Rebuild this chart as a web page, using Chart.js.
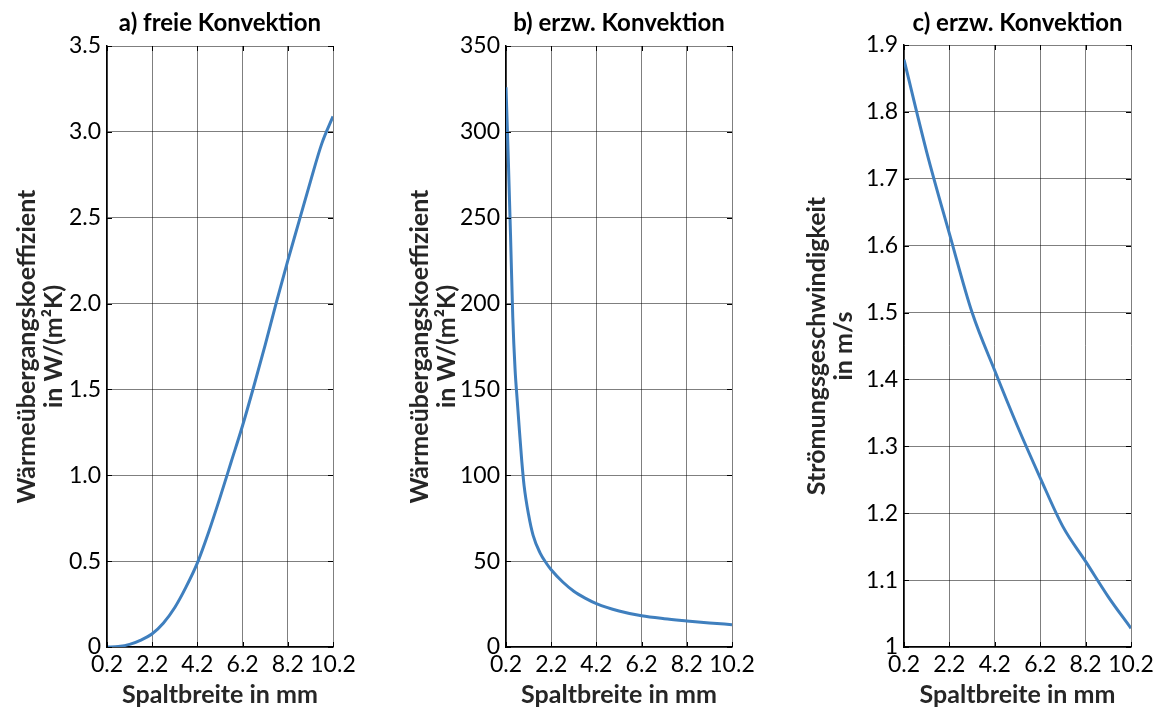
<!DOCTYPE html>
<html>
<head>
<meta charset="utf-8">
<script src="https://cdn.jsdelivr.net/npm/chart.js@4.4.0/dist/chart.umd.min.js"></script>
<style>
  html, body { margin: 0; padding: 0; background: #fff; }
  #wrap { position: relative; width: 1159px; height: 711px; }
  #wrap canvas { position: absolute; left: 0; top: 0; }
</style>
</head>
<body>
<div id="wrap">
  <canvas id="chartFree" width="1159" height="711"></canvas>
  <canvas id="chartForcedHtc" width="1159" height="711"></canvas>
  <canvas id="chartVelocity" width="1159" height="711"></canvas>
</div>
<script>
// Gap width (mm) and tick labels shared by all three panels
const gapTicks = [0.2, 2.2, 4.2, 6.2, 8.2, 10.2];
const gapTickLabels = ['0.2', '2.2', '4.2', '6.2', '8.2', '10.2'];

// a) free convection: heat transfer coefficient in W/(m²K)
const gapFree = [0.2, 0.7, 1.2, 1.7, 2.2, 2.7, 3.2, 3.7, 4.2, 4.7, 5.2, 5.7, 6.2, 6.7, 7.2, 7.7, 8.2, 8.7, 9.2, 9.7, 10.2];
const htcFree = [0, 0.003, 0.015, 0.04, 0.077, 0.14, 0.23, 0.35, 0.49, 0.67, 0.87, 1.08, 1.29, 1.52, 1.76, 2.01, 2.25, 2.48, 2.71, 2.93, 3.09];
const htcFreeTicks = [0, 0.5, 1.0, 1.5, 2.0, 2.5, 3.0, 3.5];
const htcFreeTickLabels = ['0', '0.5', '1.0', '1.5', '2.0', '2.5', '3.0', '3.5'];

// b) forced convection: heat transfer coefficient in W/(m²K)
const gapForced = [0.2, 0.3, 0.4, 0.5, 0.6, 0.7, 0.8, 0.9, 1.0, 1.2, 1.4, 1.7, 2.0, 2.2, 2.7, 3.2, 3.7, 4.2, 5.2, 6.2, 7.2, 8.2, 9.2, 10.2];
const htcForced = [326, 285, 240, 192, 162, 143, 125, 108, 94, 77, 65, 55, 48.5, 45, 38, 32.5, 28.5, 25.3, 21, 18.2, 16.5, 15.2, 14, 13];
const htcForcedTicks = [0, 50, 100, 150, 200, 250, 300, 350];
const htcForcedTickLabels = ['0', '50', '100', '150', '200', '250', '300', '350'];

// c) forced convection: flow velocity in m/s
const gapVelocity = [0.2, 1.2, 2.2, 3.2, 4.2, 5.2, 6.2, 7.2, 8.2, 9.2, 10.2];
const velocity = [1.878, 1.74, 1.618, 1.50, 1.413, 1.33, 1.253, 1.18, 1.128, 1.075, 1.028];
const velocityTicks = [1.0, 1.1, 1.2, 1.3, 1.4, 1.5, 1.6, 1.7, 1.8, 1.9];
const velocityTickLabels = ['1', '1.1', '1.2', '1.3', '1.4', '1.5', '1.6', '1.7', '1.8', '1.9'];

const FONT = 'Lato, "Open Sans", "DejaVu Sans", sans-serif';
const LINE_COLOR = '#3f7fbe';
const GRID_COLOR = 'rgba(0,0,0,0.5)';

// Short tick marks pointing into the plot on all four sides of the box
const innerTicks = {
  id: 'innerTicks',
  afterDatasetsDraw(chart) {
    const { ctx, chartArea: a, scales: { x, y } } = chart;
    const len = 5;
    ctx.save();
    ctx.strokeStyle = '#000';
    ctx.lineWidth = 1;
    ctx.beginPath();
    x.ticks.forEach(t => {
      const px = Math.round(x.getPixelForValue(t.value)) + 0.5;
      ctx.moveTo(px, a.bottom); ctx.lineTo(px, a.bottom - len);
      ctx.moveTo(px, a.top); ctx.lineTo(px, a.top + len);
    });
    y.ticks.forEach(t => {
      const py = Math.round(y.getPixelForValue(t.value)) + 0.5;
      ctx.moveTo(a.left, py); ctx.lineTo(a.left + len, py);
      ctx.moveTo(a.right, py); ctx.lineTo(a.right - len, py);
    });
    ctx.stroke();
    ctx.restore();
  }
};

function makePanel(id, cfg) {
  const points = cfg.xs.map((v, i) => ({ x: v, y: cfg.ys[i] }));
  return new Chart(document.getElementById(id), {
    type: 'line',
    data: {
      datasets: [{
        data: points,
        borderColor: LINE_COLOR,
        borderWidth: 3,
        pointRadius: 0,
        cubicInterpolationMode: 'monotone',
        fill: false
      }]
    },
    options: {
      responsive: false,
      animation: false,
      events: [],
      layout: { padding: { left: cfg.padLeft, right: cfg.padRight, top: 0, bottom: 0 } },
      plugins: {
        legend: { display: false },
        tooltip: { enabled: false },
        title: {
          display: true,
          text: cfg.title,
          fullSize: false,
          color: '#000',
          font: { family: FONT, size: 24, weight: 'bold', lineHeight: 1.2 },
          padding: { top: 8.6, bottom: cfg.titleGap }
        }
      },
      scales: {
        x: {
          type: 'linear',
          min: 0.2,
          max: 10.2,
          afterBuildTicks: s => { s.ticks = gapTicks.map(v => ({ value: v })); },
          afterFit: s => { s.height = 64; },
          ticks: {
            color: '#000',
            padding: 4,
            maxRotation: 0,
            autoSkip: false,
            font: { family: FONT, size: 23 },
            callback: v => gapTickLabels[gapTicks.indexOf(v)]
          },
          grid: { color: GRID_COLOR, lineWidth: 1, drawTicks: false },
          border: { color: '#000', width: 1.5 },
          title: {
            display: true,
            text: 'Spaltbreite in mm',
            color: '#262626',
            font: { family: FONT, size: 25, weight: 'bold', lineHeight: 1.2 },
            padding: { top: 0, bottom: 1 }
          }
        },
        y: {
          type: 'linear',
          min: cfg.yTicks[0],
          max: cfg.yTicks[cfg.yTicks.length - 1],
          afterBuildTicks: s => { s.ticks = cfg.yTicks.map(v => ({ value: v })); },
          afterFit: s => { s.width = cfg.yWidth; },
          ticks: {
            color: '#000',
            padding: 6,
            autoSkip: false,
            font: { family: FONT, size: 23 },
            callback: v => cfg.yTickLabels[cfg.yTicks.indexOf(v)]
          },
          grid: { color: GRID_COLOR, lineWidth: 1, drawTicks: false },
          border: { color: '#000', width: 1.5 },
          title: {
            display: true,
            text: cfg.yTitle,
            color: '#262626',
            font: { family: FONT, size: 25, weight: 'bold', lineHeight: 1.08 },
            padding: { top: 0, bottom: 0 }
          }
        }
      }
    },
    plugins: [innerTicks]
  });
}

makePanel('chartFree', {
  title: 'a) freie Konvektion',
  xs: gapFree, ys: htcFree,
  yTicks: htcFreeTicks, yTickLabels: htcFreeTickLabels,
  yTitle: ['Wärmeübergangskoeffizient', 'in W/(m²K)'],
  padLeft: 13.5, yWidth: 93.5, padRight: 826, titleGap: 8.6
});

makePanel('chartForcedHtc', {
  title: 'b) erzw. Konvektion',
  xs: gapForced, ys: htcForced,
  yTicks: htcForcedTicks, yTickLabels: htcForcedTickLabels,
  yTitle: ['Wärmeübergangskoeffizient', 'in W/(m²K)'],
  padLeft: 406.5, yWidth: 99.5, padRight: 427, titleGap: 8.6
});

makePanel('chartVelocity', {
  title: 'c) erzw. Konvektion',
  xs: gapVelocity, ys: velocity,
  yTicks: velocityTicks, yTickLabels: velocityTickLabels,
  yTitle: ['Strömungsgeschwindigkeit', 'in m/s'],
  padLeft: 803.5, yWidth: 100.5, padRight: 28, titleGap: 7.6
});
</script>
</body>
</html>
